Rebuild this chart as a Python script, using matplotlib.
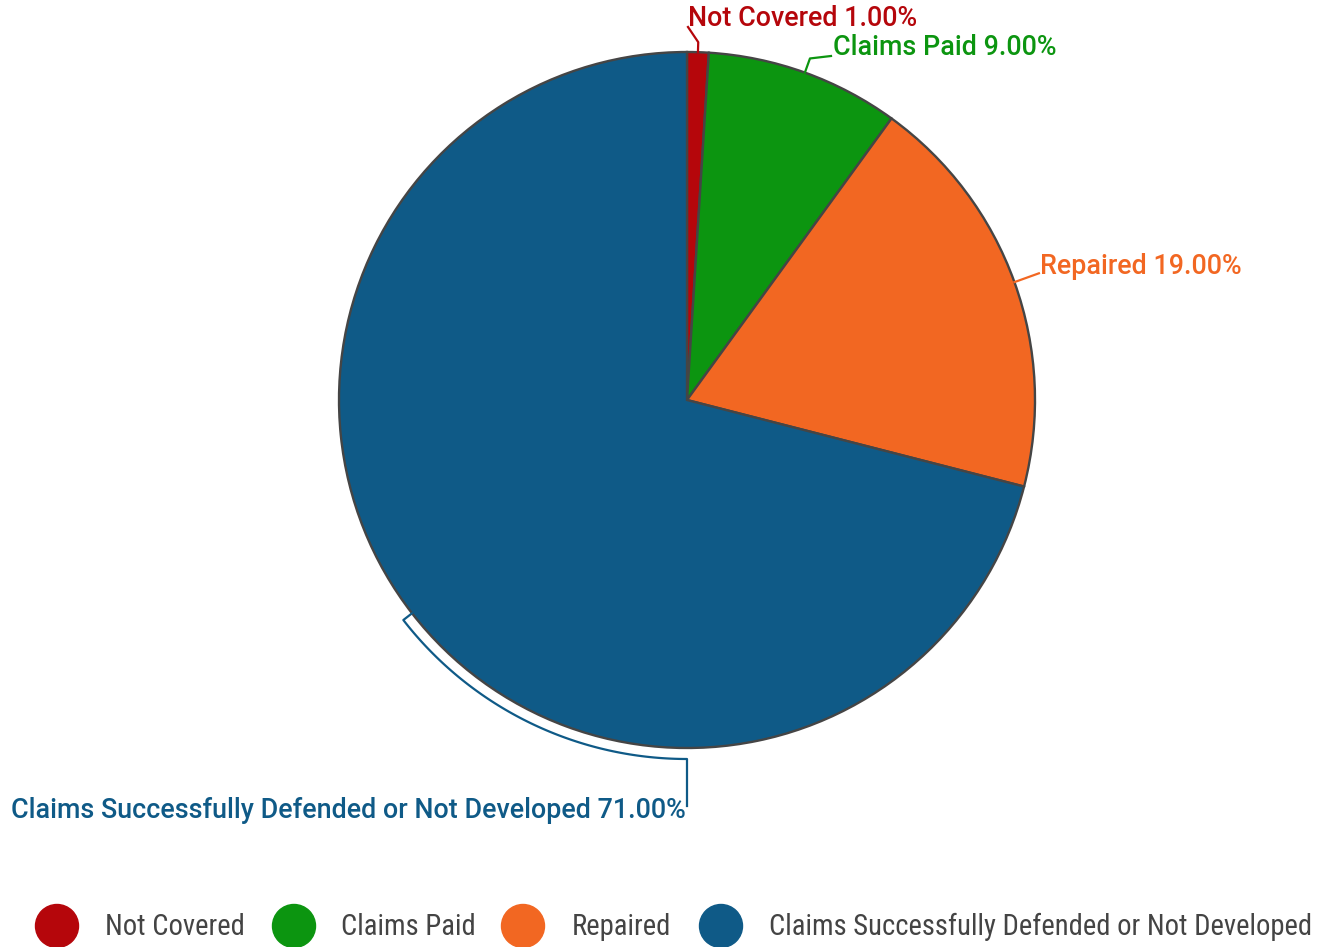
import numpy as np
import matplotlib
matplotlib.use("Agg")
import matplotlib.pyplot as plt
from matplotlib import font_manager
from matplotlib.patches import Circle

# data
labels = ["Not Covered", "Claims Paid", "Repaired",
          "Claims Successfully Defended or Not Developed"]
values = [1.0, 9.0, 19.0, 71.0]
colors = ["#B5060B", "#0C9510", "#F26722", "#0F5A87"]

W, H = 1327, 947
cx, cy, R = 687, 400, 348
edge = "#454545"

names = {f.name for f in font_manager.fontManager.ttflist}
narrow = next((n for n in ["Roboto Condensed", "Liberation Sans Narrow", "Roboto"] if n in names), "DejaVu Sans")
plt.rcParams["font.family"] = ["Roboto", "DejaVu Sans"]

fig = plt.figure(figsize=(W / 100, H / 100), dpi=100)
ax = fig.add_axes([0, 0, 1, 1])

# inverted y axis: counterclock in data = clockwise on screen, -90 = 12 o'clock
ax.pie(values, colors=colors, startangle=-90, counterclock=True,
       center=(cx, cy), radius=R, frame=True,
       wedgeprops=dict(edgecolor=edge, linewidth=1.7))
ax.set_xlim(0, W)
ax.set_ylim(H, 0)
ax.set_aspect("equal")
ax.axis("off")

cum = np.cumsum([0] + values[:-1])
mid = np.radians(-90 + 3.6 * (cum + np.array(values) / 2))


def on_ring(i, r):
    return cx + r * np.cos(mid[i]), cy + r * np.sin(mid[i])


fs = 19.4
fw = "medium"
# Not Covered
p0 = on_ring(0, R)
p1 = on_ring(0, R + 10)
ax.plot([p0[0], p1[0], 688], [p0[1], p1[1], 27], color=colors[0], lw=1.6)
ax.text(688, 18, f"{labels[0]} {values[0]:.2f}%", color=colors[0], fontsize=fs,
        weight=fw, va="center", ha="left")

# Claims Paid
p0 = on_ring(1, R)
p1 = on_ring(1, R + 15)
ax.plot([p0[0], p1[0], 831], [p0[1], p1[1], 56], color=colors[1], lw=1.6)
ax.text(833, 47, f"{labels[1]} {values[1]:.2f}%", color=colors[1], fontsize=fs,
        weight=fw, va="center", ha="left")

# Repaired
p0 = on_ring(2, R)
p1 = on_ring(2, R + 26)
ax.plot([p0[0], p1[0]], [p0[1], p1[1]], color=colors[2], lw=1.6)
ax.text(1040, 266, f"{labels[2]} {values[2]:.2f}%", color=colors[2], fontsize=fs,
        weight=fw, va="center", ha="left")

# big slice: bracket along the outside of the arc
r2 = R + 11
p0 = on_ring(3, R)
t = np.linspace(mid[3], np.pi / 2, 80)
xs = np.concatenate([[p0[0]], cx + r2 * np.cos(t), [cx]])
ys = np.concatenate([[p0[1]], cy + r2 * np.sin(t), [806]])
ax.plot(xs, ys, color=colors[3], lw=1.6)
ax.text(686, 810, f"{labels[3]} {values[3]:.2f}%", color=colors[3], fontsize=fs,
        weight=fw, va="center", ha="right")

# legend
leg_x = [57, 294, 523, 721]
leg_tx = [105, 341, 572, 769]
for i in range(4):
    ax.add_patch(Circle((leg_x[i], 926), 21.5, color=colors[i], clip_on=False))
    ax.text(leg_tx[i], 927, labels[i], color="#444444", fontsize=20.6, va="center", ha="left",
            family=[narrow, "DejaVu Sans"])

fig.savefig("out.png", dpi=100)
